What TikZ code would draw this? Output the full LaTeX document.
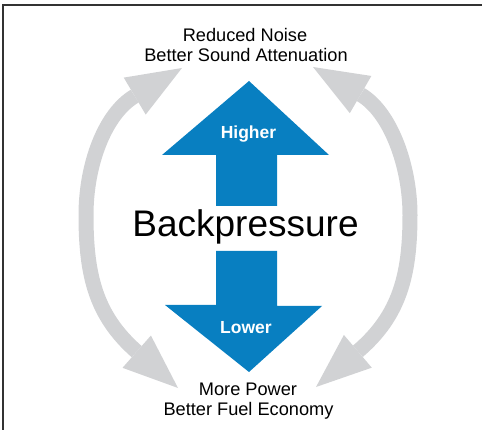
\documentclass[tikz,border=0pt]{standalone}
\usepackage{fontspec}
\setmainfont{Liberation Sans}
\usetikzlibrary{arrows.meta}
\definecolor{bpblue}{RGB}{8,127,193}
\definecolor{bpgray}{RGB}{209,210,212}

\begin{document}
\begin{tikzpicture}[x=1pt, y=-1pt,
  effect/.style = {anchor=base, inner sep=0pt, font=\fontsize{18.2}{20}\selectfont},
  level/.style = {anchor=base, inner sep=0pt, text=white, font=\bfseries\fontsize{17.5}{20}\selectfont},
  swing/.style = {draw=bpgray, line width=15pt,
    arrows={Triangle[length=55pt, width=43pt, line width=0pt]-Triangle[length=55pt, width=43pt, line width=0pt]}}]
\useasboundingbox (0,0) rectangle (482,430);
\draw[line width=1.6pt, black!80] (3,432) -- (3,5) -- (484,5);
% effects
\node[effect] (noise) at (245,42) {Reduced Noise};
\node[effect] (atten) at (246,62) {Better Sound Attenuation};
\node[effect] (power) at (248,395) {More Power};
\node[effect] (economy) at (248.5,415) {Better Fuel Economy};
% blue arrows
\fill[bpblue] (216,206) -- (216,155) -- (162,155) -- (249,81) -- (329,155) -- (277,155) -- (277,206) -- cycle;
\fill[bpblue] (216,251) -- (216,305) -- (165,305) -- (249,372) -- (322,306) -- (277,306) -- (277,251) -- cycle;
\node[anchor=base, inner sep=0pt, font=\fontsize{37}{40}\selectfont] (bp) at (245.5,237) {Backpressure};
\node[level] (higher) at (248.5,139) {Higher};
\node[level] (lower) at (246,334) {Lower};
% gray swings
\coordinate (lbot) at (178,388);
\coordinate (ltop) at (182,68);
\coordinate (rbot) at (316,387);
\coordinate (rtop) at (313,67);
\draw[swing] (lbot) .. controls (95.5,315.4) and (86,275) .. (86,215) .. controls (86,165) and (104.6,114) .. (ltop);
\draw[swing] (rbot) .. controls (399.7,315.6) and (410,275) .. (410,215) .. controls (410,165) and (390,111.6) .. (rtop);
\end{tikzpicture}
\end{document}
